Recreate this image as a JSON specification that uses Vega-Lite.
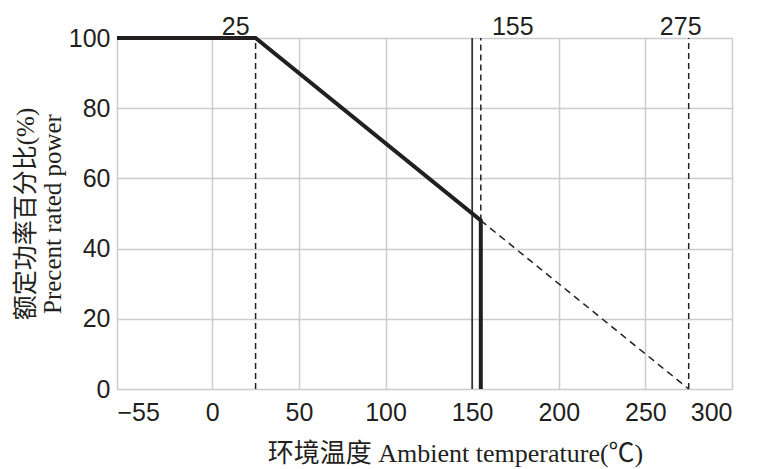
{
  "$schema": "https://vega.github.io/schema/vega-lite/v6.json",
  "autosize": "none",
  "width": 615,
  "height": 351,
  "padding": {"left": 117, "top": 38, "right": 25, "bottom": 80},
  "background": "white",
  "config": {
    "view": {"stroke": null},
    "axis": {
      "domain": false,
      "ticks": false,
      "grid": true,
      "gridColor": "#cccccc",
      "gridWidth": 1.5,
      "labelFont": "Liberation Sans",
      "labelFontSize": 25,
      "labelColor": "#231f20",
      "titleFont": "Liberation Serif, Noto Sans CJK SC",
      "titleFontSize": 25,
      "titleFontWeight": "normal",
      "titleColor": "#231f20"
    }
  },
  "datasets": {
    "solid": [
      {"t": -55, "p": 100},
      {"t": 25, "p": 100},
      {"t": 155, "p": 48},
      {"t": 155, "p": 0}
    ],
    "dashed": [
      {"t": 155, "p": 48},
      {"t": 275, "p": 0}
    ],
    "rules": [
      {"t": 25, "p0": 0, "p1": 100},
      {"t": 155, "p0": 48, "p1": 100},
      {"t": 275, "p0": 0, "p1": 100}
    ],
    "thin": [
      {"t": 150, "p0": 0, "p1": 100}
    ],
    "lab25": [{"t": 25, "p": 100, "txt": "25"}],
    "lab155": [{"t": 155, "p": 100, "txt": "155"}],
    "lab275": [{"t": 275, "p": 100, "txt": "275"}]
  },
  "layer": [
    {
      "data": {"name": "rules"},
      "mark": {"type": "rule", "color": "#231f20", "strokeWidth": 1.5, "strokeDash": [6, 4]},
      "encoding": {
        "x": {"field": "t", "type": "quantitative", "scale": {"domain": [-55, 300], "nice": false, "zero": false},
          "axis": {"values": [-55, 0, 50, 100, 150, 200, 250, 300], "title": "环境温度 Ambient temperature(℃)", "titleFontSize": 26, "titleX": 338, "titleAlign": "center", "labelPadding": 11, "titlePadding": 15}},
        "y": {"field": "p0", "type": "quantitative", "scale": {"domain": [0, 100], "nice": false},
          "axis": {"values": [0, 20, 40, 60, 80, 100], "title": ["额定功率百分比(%)", "Precent rated power"], "titleLineHeight": 27, "labelPadding": 7, "titlePadding": 3}},
        "y2": {"field": "p1"}
      }
    },
    {
      "data": {"name": "thin"},
      "mark": {"type": "rule", "color": "#231f20", "strokeWidth": 1.5},
      "encoding": {
        "x": {"field": "t", "type": "quantitative"},
        "y": {"field": "p0", "type": "quantitative"},
        "y2": {"field": "p1"}
      }
    },
    {
      "data": {"name": "dashed"},
      "mark": {"type": "line", "color": "#231f20", "strokeWidth": 1.5, "strokeDash": [7, 5]},
      "encoding": {
        "x": {"field": "t", "type": "quantitative"},
        "y": {"field": "p", "type": "quantitative"}
      }
    },
    {
      "data": {"name": "solid"},
      "mark": {"type": "line", "color": "#231f20", "strokeWidth": 4, "strokeJoin": "miter", "strokeCap": "butt"},
      "encoding": {
        "x": {"field": "t", "type": "quantitative"},
        "y": {"field": "p", "type": "quantitative"}
      }
    },
    {
      "data": {"name": "lab25"},
      "mark": {"type": "text", "font": "Liberation Sans", "fontSize": 25, "color": "#231f20", "baseline": "bottom", "align": "right", "dx": -6, "dy": 2},
      "encoding": {
        "x": {"field": "t", "type": "quantitative"},
        "y": {"field": "p", "type": "quantitative"},
        "text": {"field": "txt"}
      }
    },
    {
      "data": {"name": "lab155"},
      "mark": {"type": "text", "font": "Liberation Sans", "fontSize": 25, "color": "#231f20", "baseline": "bottom", "align": "center", "dx": 32, "dy": 2},
      "encoding": {
        "x": {"field": "t", "type": "quantitative"},
        "y": {"field": "p", "type": "quantitative"},
        "text": {"field": "txt"}
      }
    },
    {
      "data": {"name": "lab275"},
      "mark": {"type": "text", "font": "Liberation Sans", "fontSize": 25, "color": "#231f20", "baseline": "bottom", "align": "center", "dx": -8, "dy": 2},
      "encoding": {
        "x": {"field": "t", "type": "quantitative"},
        "y": {"field": "p", "type": "quantitative"},
        "text": {"field": "txt"}
      }
    }
  ]
}
